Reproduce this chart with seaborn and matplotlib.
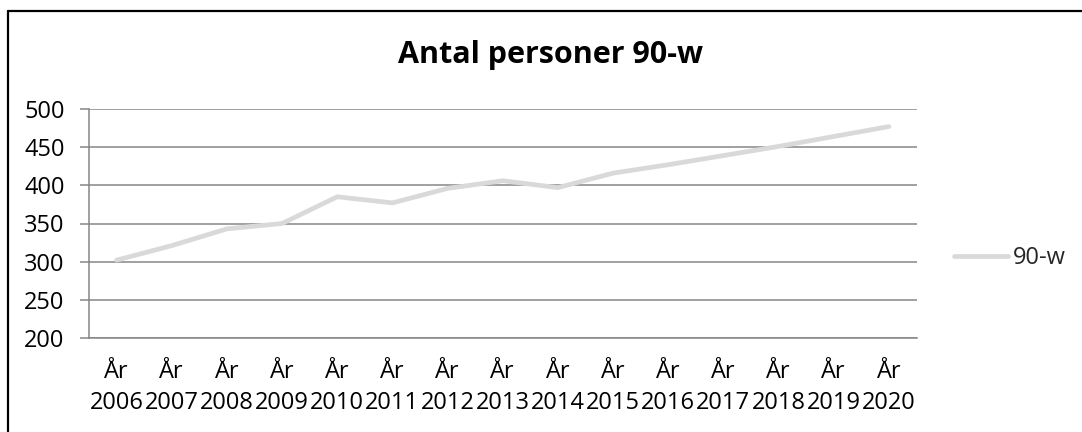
import matplotlib
matplotlib.use("Agg")
import matplotlib.pyplot as plt
import seaborn as sns
import pandas as pd
from matplotlib.lines import Line2D

# data
years = ["2006", "2007", "2008", "2009", "2010", "2011", "2012", "2013",
         "2014", "2015", "2016", "2017", "2018", "2019", "2020"]
labels = ["År\n" + y for y in years]
values = [302, 321, 343, 350, 385, 377, 396, 406, 397, 416, 427, 439, 451, 464, 477]
series_name = "90-w"
title = "Antal personer 90-w"

df = pd.DataFrame({"År": labels, "Antal": values})

sns.set_style("white")
plt.rcParams["font.family"] = ["Open Sans", "DejaVu Sans"]

W, H = 1082, 432
fig = plt.figure(figsize=(W / 100, H / 100), dpi=100)
ax = fig.add_axes([89 / W, 1 - 338 / H, (916.5 - 89) / W, (338 - 109) / H])

sns.lineplot(data=df, x="År", y="Antal", ax=ax, color="#d9d9d9",
             linewidth=3.4, label=series_name, sort=False)

grid_c = "#868686"
ax.set_xlim(-0.5, len(labels) - 0.5)
ax.set_ylim(200, 500)
ax.set_yticks(range(200, 501, 50))
ax.yaxis.grid(True, color=grid_c, linewidth=1.1)
ax.set_axisbelow(True)
for s in ["top", "right"]:
    ax.spines[s].set_visible(False)
for s in ["left", "bottom"]:
    ax.spines[s].set_color(grid_c)
    ax.spines[s].set_linewidth(1.1)

# tick marks on category boundaries, labels at centres
ax.set_xticks([i - 0.5 for i in range(len(labels) + 1)], minor=True)
ax.tick_params(axis="x", which="minor", length=6, width=1.1, color=grid_c, direction="out")
ax.tick_params(axis="x", which="major", length=0, pad=16, labelsize=17, labelcolor="black")
ax.tick_params(axis="y", which="major", length=6.5, width=1.1, color=grid_c,
               direction="out", pad=11, labelsize=17, left=True, labelcolor="black")
for t in ax.get_xticklabels():
    t.set_linespacing(1.35)
ax.set_xlabel("")
ax.set_ylabel("")

leg = ax.legend(loc="center left", bbox_to_anchor=(954 / W, 1 - 258 / H),
                bbox_transform=fig.transFigure, frameon=False, fontsize=17,
                handlelength=2.3, handletextpad=0.2, borderaxespad=0, borderpad=0)

fig.text(551 / W, 1 - 55 / H, title, ha="center", va="center",
         fontsize=22, fontweight="bold", color="black")

# chart frame (only top and left edge fall inside the image)
fig.add_artist(Line2D([8 / W, 1], [1 - 11 / H, 1 - 11 / H], color="black",
                      linewidth=1.6, transform=fig.transFigure))
fig.add_artist(Line2D([8 / W, 8 / W], [0, 1 - 11 / H], color="black",
                      linewidth=1.6, transform=fig.transFigure))

fig.savefig("out.png", dpi=100)
